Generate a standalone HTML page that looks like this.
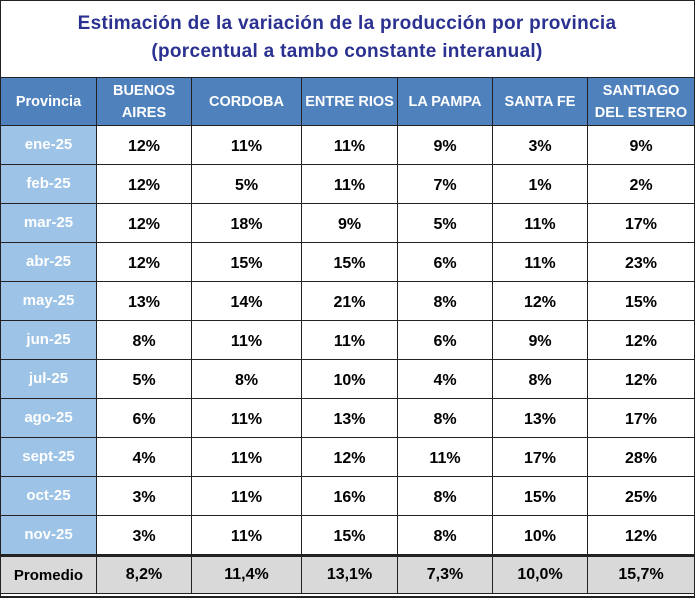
<!DOCTYPE html>
<html><head><meta charset="utf-8"><style>
body{margin:0;width:696px;height:600px;background:#fff;font-family:"Liberation Sans",sans-serif;overflow:hidden}
#wrap{position:absolute;left:0;top:0;width:695px;height:598px;border:1px solid #222;border-bottom:2px solid #222;box-sizing:border-box}
#title{position:absolute;left:0;top:0;width:694px;height:78px;text-align:center;color:#2b3190;font-size:19px;font-weight:bold;line-height:28px;padding-top:10px;box-sizing:border-box;letter-spacing:0.3px}
table{position:absolute;left:0;top:77px;border-collapse:collapse;table-layout:fixed;width:694px}
td{border:1.5px solid #222;text-align:center;font-weight:bold;font-size:16px;color:#000;padding:0}
tr.h td{background:#4f81bd;color:#fff;font-size:14.5px;height:47px;line-height:22px}
tr.d td{height:34px;padding-top:4px}
tr.d td:first-child{background:#9dc3e6;color:#fff;font-size:15px;padding-top:1px;padding-bottom:3px;height:34px}
tr.p td{background:#d9d9d9;height:36px;border-top:3px solid #222}
tr.p td:first-child{font-size:15px}
</style></head><body>
<div id="wrap"></div>
<div id="title">Estimación de la variación de la producción por provincia<br>(porcentual a tambo constante interanual)</div>
<table>
<colgroup><col style="width:96px"><col style="width:95px"><col style="width:110px"><col style="width:96px"><col style="width:95px"><col style="width:95px"><col style="width:107px"></colgroup>
<tbody id="tb"></tbody></table>
<script>
const headers=["Provincia","BUENOS<br>AIRES","CORDOBA","ENTRE RIOS","LA PAMPA","SANTA FE","SANTIAGO<br>DEL ESTERO"];
const months=["ene-25","feb-25","mar-25","abr-25","may-25","jun-25","jul-25","ago-25","sept-25","oct-25","nov-25"];
const buenosAires=[12,12,12,12,13,8,5,6,4,3,3];
const cordoba=[11,5,18,15,14,11,8,11,11,11,11];
const entreRios=[11,11,9,15,21,11,10,13,12,16,15];
const laPampa=[9,7,5,6,8,6,4,8,11,8,8];
const santaFe=[3,1,11,11,12,9,8,13,17,15,10];
const santiago=[9,2,17,23,15,12,12,17,28,25,12];
const promedio=["8,2%","11,4%","13,1%","7,3%","10,0%","15,7%"];
const tb=document.getElementById('tb');
let h='<tr class="h">'+headers.map(x=>'<td>'+x+'</td>').join('')+'</tr>';
const cols=[buenosAires,cordoba,entreRios,laPampa,santaFe,santiago];
months.forEach((m,i)=>{
 h+='<tr class="d"><td>'+m+'</td>'+cols.map(c=>'<td>'+c[i]+'%</td>').join('')+'</tr>';
});
h+='<tr class="p"><td>Promedio</td>'+promedio.map(v=>'<td>'+v+'</td>').join('')+'</tr>';
tb.innerHTML=h;
</script>
</body></html>
